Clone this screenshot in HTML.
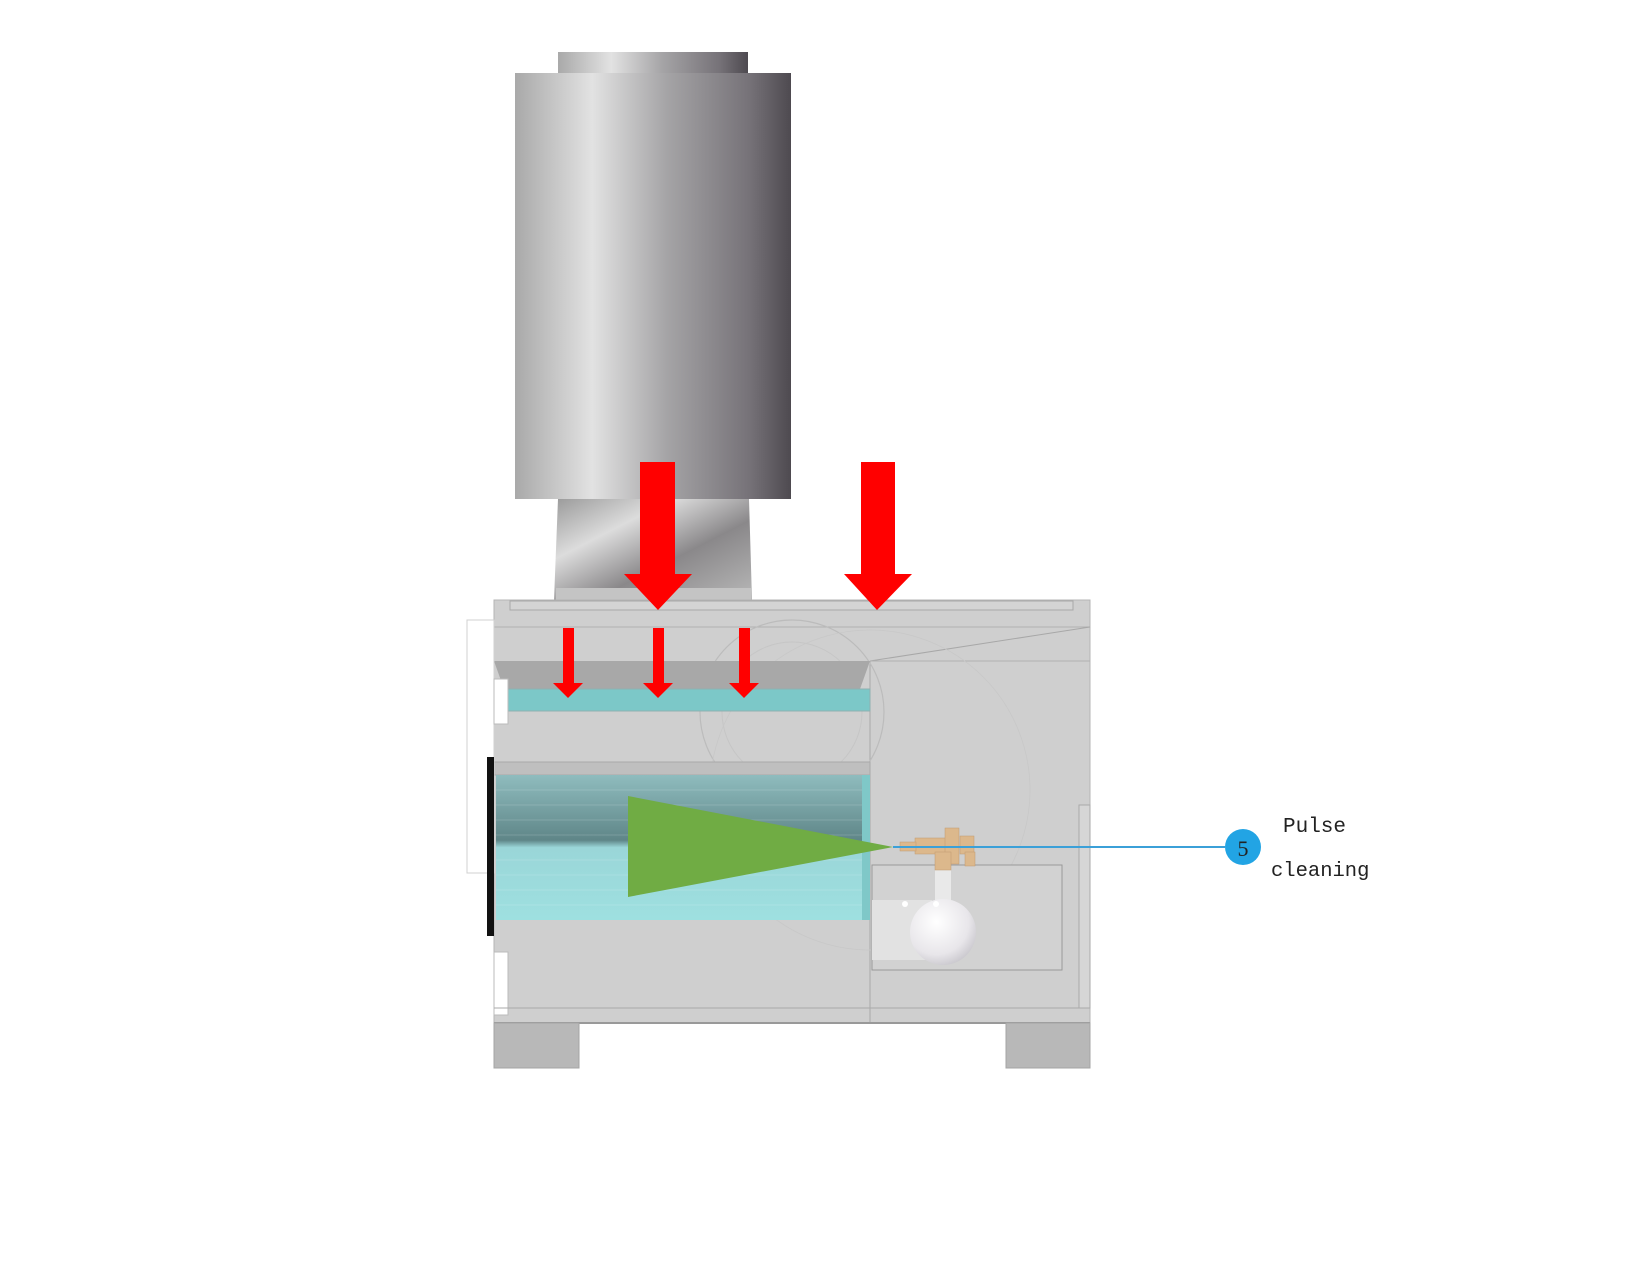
<!DOCTYPE html>
<html><head><meta charset="utf-8"><style>
html,body{margin:0;padding:0;background:#fff;}
svg{display:block;}
</style></head><body>
<svg width="1650" height="1275" viewBox="0 0 1650 1275" xmlns="http://www.w3.org/2000/svg">
<defs>
<linearGradient id="cyl" x1="0" x2="1" y1="0" y2="0">
<stop offset="0" stop-color="#a9a9a9"/><stop offset="0.28" stop-color="#e2e2e2"/><stop offset="0.55" stop-color="#a5a4a6"/><stop offset="0.85" stop-color="#767278"/><stop offset="1" stop-color="#4e4a50"/>
</linearGradient>
<linearGradient id="neck" x1="0" x2="1" y1="0" y2="1">
<stop offset="0" stop-color="#9a9a9a"/><stop offset="0.3" stop-color="#dcdcdc"/><stop offset="0.6" stop-color="#8a888a"/><stop offset="1" stop-color="#b8b8b8"/>
</linearGradient>
<linearGradient id="filt" x1="0" x2="0" y1="0" y2="1">
<stop offset="0" stop-color="#8fbcbe"/><stop offset="0.45" stop-color="#5f8688"/><stop offset="0.5" stop-color="#9ad6d8"/><stop offset="1" stop-color="#9ee0e0"/>
</linearGradient>
<radialGradient id="ball" cx="0.4" cy="0.35" r="0.7">
<stop offset="0" stop-color="#ffffff"/><stop offset="0.7" stop-color="#e8e6ea"/><stop offset="1" stop-color="#c8c6cc"/>
</radialGradient>
</defs>
<rect x="558" y="52" width="190" height="22" fill="url(#cyl)"/>
<rect x="515" y="73" width="276" height="426" fill="url(#cyl)"/>
<polygon points="558,499 749,499 752,600 554,600" fill="url(#neck)"/>
<rect x="556" y="588" width="195" height="12" fill="#c4c4c4"/>
<rect x="494" y="600" width="596" height="423" fill="#cfcfcf" stroke="#b4b4b4"/>
<rect x="510" y="601" width="563" height="9" fill="#d4d4d4" stroke="#a8a8a8"/>
<line x1="494" y1="627" x2="1090" y2="627" stroke="#b0b0b0"/>
<line x1="870" y1="661" x2="1090" y2="627" stroke="#a8a8a8"/>
<line x1="870" y1="661" x2="1090" y2="661" stroke="#b0b0b0"/>
<line x1="870" y1="661" x2="870" y2="1023" stroke="#aaaaaa"/>
<circle cx="792" cy="712" r="92" fill="none" stroke="#bcbcbc" stroke-width="1.2"/>
<circle cx="792" cy="712" r="70" fill="none" stroke="#c6c6c6"/>
<circle cx="870" cy="790" r="160" fill="none" stroke="#c8c8c8" stroke-width="0.8"/>
<polygon points="494,661 870,661 860,689 504,689" fill="#a8a8a8"/>
<rect x="508" y="689" width="362" height="22" fill="#7cc8c8" stroke="#8fb0b0"/>
<rect x="494" y="762" width="376" height="13" fill="#bfbfbf" stroke="#aaa"/>
<rect x="496" y="775" width="374" height="145" fill="url(#filt)"/>
<g stroke="#ffffff" stroke-opacity="0.15">
<line x1="496" y1="790" x2="865" y2="790"/><line x1="496" y1="805" x2="865" y2="805"/><line x1="496" y1="820" x2="865" y2="820"/><line x1="496" y1="835" x2="865" y2="835"/><line x1="496" y1="860" x2="865" y2="860"/><line x1="496" y1="875" x2="865" y2="875"/><line x1="496" y1="890" x2="865" y2="890"/><line x1="496" y1="905" x2="865" y2="905"/>
</g>
<rect x="862" y="775" width="8" height="145" fill="#7fc8c8"/>
<polygon points="628,796 628,897 893,847" fill="#70ac44"/>
<rect x="467" y="620" width="27" height="253" fill="#fff" stroke="#d0d0d0"/>
<rect x="487" y="757" width="7" height="179" fill="#111"/>
<rect x="494" y="679" width="14" height="45" fill="#fff" stroke="#bbb"/>
<rect x="494" y="952" width="14" height="63" fill="#fff" stroke="#bbb"/>
<line x1="494" y1="1008" x2="1090" y2="1008" stroke="#aaa"/>
<line x1="494" y1="1023" x2="1090" y2="1023" stroke="#999" stroke-width="2"/>
<rect x="494" y="1023" width="85" height="45" fill="#b8b8b8" stroke="#a5a5a5"/>
<rect x="1006" y="1023" width="84" height="45" fill="#b8b8b8" stroke="#a5a5a5"/>
<rect x="1079" y="805" width="11" height="203" fill="#d6d6d6" stroke="#aaa"/>
<rect x="872" y="865" width="190" height="105" fill="#d2d2d2" stroke="#999"/>
<rect x="872" y="900" width="60" height="60" fill="#e2e2e2"/>
<rect x="935" y="855" width="16" height="50" fill="#e9e9e9"/>
<circle cx="943" cy="932" r="33" fill="url(#ball)"/>
<circle cx="905" cy="904" r="3" fill="#fff"/><circle cx="936" cy="904" r="3" fill="#fff"/>
<g fill="#dcb88c" stroke="#c09a70" stroke-width="0.5">
<rect x="915" y="838" width="38" height="16"/>
<rect x="945" y="828" width="14" height="36"/>
<rect x="960" y="836" width="14" height="18"/>
<rect x="965" y="852" width="10" height="14"/>
<rect x="935" y="852" width="16" height="18"/>
<rect x="900" y="842" width="16" height="9"/>
</g>
<line x1="893" y1="847" x2="1225" y2="847" stroke="#3ba0d8" stroke-width="2"/>
<circle cx="1243" cy="847" r="18" fill="#22a4e4"/>
<text x="1243" y="856" font-family="Liberation Serif, serif" font-size="22" fill="#222" text-anchor="middle">5</text>
<text x="1283" y="832" font-family="Liberation Mono, monospace" font-size="21" fill="#222">Pulse</text>
<text x="1271" y="876" font-family="Liberation Mono, monospace" font-size="20.5" fill="#222">cleaning</text>
<g fill="#ff0000">
<polygon points="640,462 675,462 675,574 692,574 658,610 624,574 640,574"/>
<polygon points="861,462 895,462 895,574 912,574 877,610 844,574 861,574"/>
<polygon points="563,628 574,628 574,683 583,683 568,698 553,683 563,683"/>
<polygon points="653,628 664,628 664,683 673,683 658,698 643,683 653,683"/>
<polygon points="739,628 750,628 750,683 759,683 744,698 729,683 739,683"/>
</g>
</svg>
</body></html>
